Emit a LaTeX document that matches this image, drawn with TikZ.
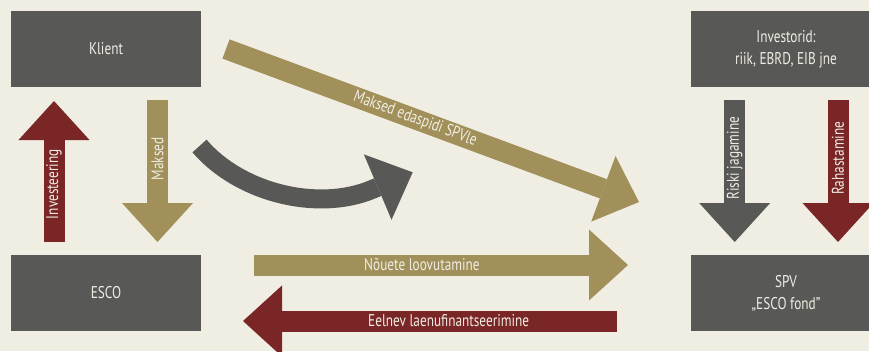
\documentclass[tikz,border=0pt]{standalone}
\usepackage{fontspec}
\setmainfont{PT Sans}[FakeStretch=0.78]
\usetikzlibrary{arrows.meta}
\definecolor{paper}{RGB}{240,237,227}
\definecolor{slate}{RGB}{88,88,86}
\definecolor{flowolive}{RGB}{161,144,90}
\definecolor{wine}{RGB}{122,38,38}
\begin{document}
\begin{tikzpicture}[x=1pt,y=-1pt,
  box/.style={fill=slate, text=paper, minimum width=190pt, minimum height=76pt,
    inner sep=0pt, align=center, font=\fontsize{17}{22}\selectfont},
  flow/.style={line width=21pt, line cap=butt,
    -{Triangle[length=39pt,width=71pt,line width=0pt]}},
  lbl/.style={text=paper, inner sep=0pt, font=\fontsize{17}{20}\selectfont},
]
\useasboundingbox (0,0) rectangle (869,351);
\fill[paper] (0,0) rectangle (869,351);
\clip (0,0) rectangle (869,351);

% parties
\node[box] (klient) at (106,49) {Klient};
\node[box] (esco) at (106,293) {ESCO};
\node[box] (invest) at (786,49) {Investorid:\\riik, EBRD, EIB jne};
\node[box] (spv) at (786,293) {SPV\\„ESCO fond”};

% arrow end points
\coordinate (inv-a) at (54,242);   \coordinate (inv-b) at (54,101);
\coordinate (mak-a) at (157.5,100); \coordinate (mak-b) at (157.5,242);
\coordinate (ris-a) at (734.7,100); \coordinate (ris-b) at (734.7,242);
\coordinate (rah-a) at (838,100);  \coordinate (rah-b) at (838,242);
\coordinate (nou-a) at (254,265);  \coordinate (nou-b) at (628,265);
\coordinate (eel-a) at (617,321);  \coordinate (eel-b) at (243,321);
\coordinate (eda-a) at (226,49);   \coordinate (eda-b) at (639,202);
\coordinate (cur-a) at (199.5,146); \coordinate (cur-b) at (412.7,172.3);

% flows
\draw[flow, wine] (inv-a) -- node[lbl, pos=0.41, rotate=90] {Investeering} (inv-b);
\draw[flow, flowolive] (mak-a) -- node[lbl, pos=0.415, rotate=90] {Maksed} (mak-b);
\draw[flow, slate] (ris-a) -- node[lbl, pos=0.41, rotate=90] {Riski jagamine} (ris-b);
\draw[flow, wine] (rah-a) -- node[lbl, pos=0.41, rotate=90] {Rahastamine} (rah-b);
\draw[flow, flowolive] (nou-a) -- node[lbl, pos=0.449] {Nõuete loovutamine} (nou-b);
\draw[flow, wine] (eel-a) -- node[lbl, pos=0.45] {Eelnev laenufinantseerimine} (eel-b);
\draw[flow, flowolive, line width=20.5pt,
  -{Triangle[length=38pt,width=70pt,line width=0pt]}]
  (eda-a) -- node[lbl, pos=0.458, sloped] {Maksed edaspidi SPVle} (eda-b);
\draw[flow, slate, line width=19pt,
  -{Triangle[length=38pt,width=71pt,line width=0pt]}]
  (cur-a) .. controls (239.8,193.1) and (318,212) .. (372,189.5) -- (cur-b);
\end{tikzpicture}
\end{document}
